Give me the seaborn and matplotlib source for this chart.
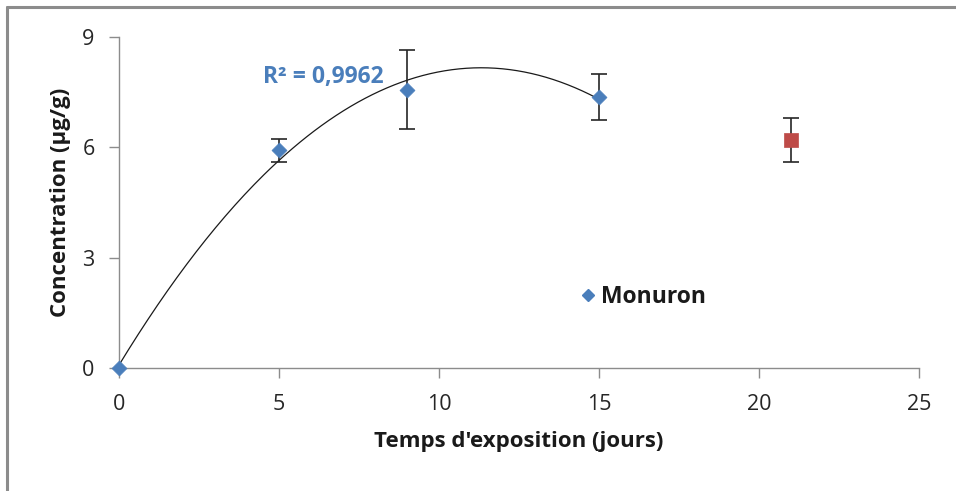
import numpy as np
import pandas as pd
import matplotlib
matplotlib.use("Agg")
import matplotlib.pyplot as plt
from matplotlib.lines import Line2D
import seaborn as sns

# Monuron concentration over exposure time
days = [0, 5, 9, 15]
conc = [0.0, 5.92, 7.57, 7.37]
conc_err = [0.0, 0.31, 1.08, 0.62]

# Extra point at day 21
extra_day = [21]
extra_conc = [6.20]
extra_err = [0.60]

x_ticks = [0, 5, 10, 15, 20, 25]
y_ticks = [0, 3, 6, 9]
r2_label = "R² = 0,9962"

sns.set_theme(style="white")
FONT = ["Open Sans", "DejaVu Sans"]
plt.rcParams["font.family"] = FONT

blue = "#4A7EBB"
red = "#BE4B48"

fig = plt.figure(figsize=(9.56, 4.91), dpi=100)
ax = fig.add_axes([0.1245, 0.2505, 0.8368, 0.6741])

df = pd.DataFrame({"day": days, "conc": conc, "err": conc_err})
df_extra = pd.DataFrame({"day": extra_day, "conc": extra_conc, "err": extra_err})

# Second-order polynomial trend through the Monuron points
coef = np.polyfit(days, conc, 2)
xs = np.linspace(min(days), max(days), 200)
trend = pd.DataFrame({"day": xs, "conc": np.polyval(coef, xs)})
sns.lineplot(data=trend, x="day", y="conc", ax=ax, color="#1a1a1a", lw=0.9,
             zorder=2, legend=False)

# Error bars
ax.errorbar(df["day"][1:], df["conc"][1:], yerr=df["err"][1:], fmt="none",
            ecolor="#262626", elinewidth=1.2, capsize=6, capthick=1.2, zorder=3)
ax.errorbar(df_extra["day"], df_extra["conc"], yerr=df_extra["err"], fmt="none",
            ecolor="#262626", elinewidth=1.2, capsize=6, capthick=1.2, zorder=3)

sns.scatterplot(data=df, x="day", y="conc", ax=ax, marker="D", s=58,
                color=blue, edgecolor=blue, linewidth=0.5, zorder=4,
                legend=False, clip_on=False)
sns.scatterplot(data=df_extra, x="day", y="conc", ax=ax, marker="s", s=115,
                color=red, edgecolor=red, linewidth=0.5, zorder=4,
                legend=False, clip_on=False)

ax.set_xlim(0, 25)
ax.set_ylim(0, 9)
ax.set_xticks(x_ticks)
ax.set_yticks(y_ticks)
ax.set_xticklabels([str(t) for t in x_ticks])
ax.set_yticklabels([str(t) for t in y_ticks])

for s in ["top", "right"]:
    ax.spines[s].set_visible(False)
for s in ["left", "bottom"]:
    ax.spines[s].set_color("#8c8c8c")
    ax.spines[s].set_linewidth(1.0)

ax.tick_params(axis="both", which="major", direction="out", length=7,
               width=1.0, color="#8c8c8c", labelsize=15.5, labelcolor="#262626",
               left=True, bottom=True)
ax.tick_params(axis="x", pad=12)
ax.tick_params(axis="y", pad=10.5)

ax.set_xlabel("Temps d'exposition (jours)", fontsize=16, fontweight="bold",
              color="#1a1a1a", labelpad=11)
ax.set_ylabel("Concentration (µg/g)", fontsize=16, fontweight="bold",
              color="#1a1a1a", labelpad=8)

ax.text(4.5, 7.9, r2_label, color=blue, fontsize=16.5, fontweight="bold",
        ha="left", va="center", zorder=5)

handle = Line2D([], [], marker="D", linestyle="none", color=blue,
                markersize=6.5, label="Monuron")
leg = ax.legend(handles=[handle], loc="center left",
                bbox_to_anchor=(0.56, 0.2145), frameon=False,
                handletextpad=0.1, handlelength=1.0, borderaxespad=0,
                prop={"family": FONT, "weight": "bold", "size": 16.5})
for t in leg.get_texts():
    t.set_color("#1a1a1a")

# Outer frame lines along the top and left edges
fig.add_artist(Line2D([7 / 956, 1.0], [1 - 7 / 491, 1 - 7 / 491],
                      transform=fig.transFigure, color="#8c8c8c", lw=2.2))
fig.add_artist(Line2D([7 / 956, 7 / 956], [0, 1 - 7 / 491],
                      transform=fig.transFigure, color="#8c8c8c", lw=2.2))

fig.savefig("out.png", dpi=100)
